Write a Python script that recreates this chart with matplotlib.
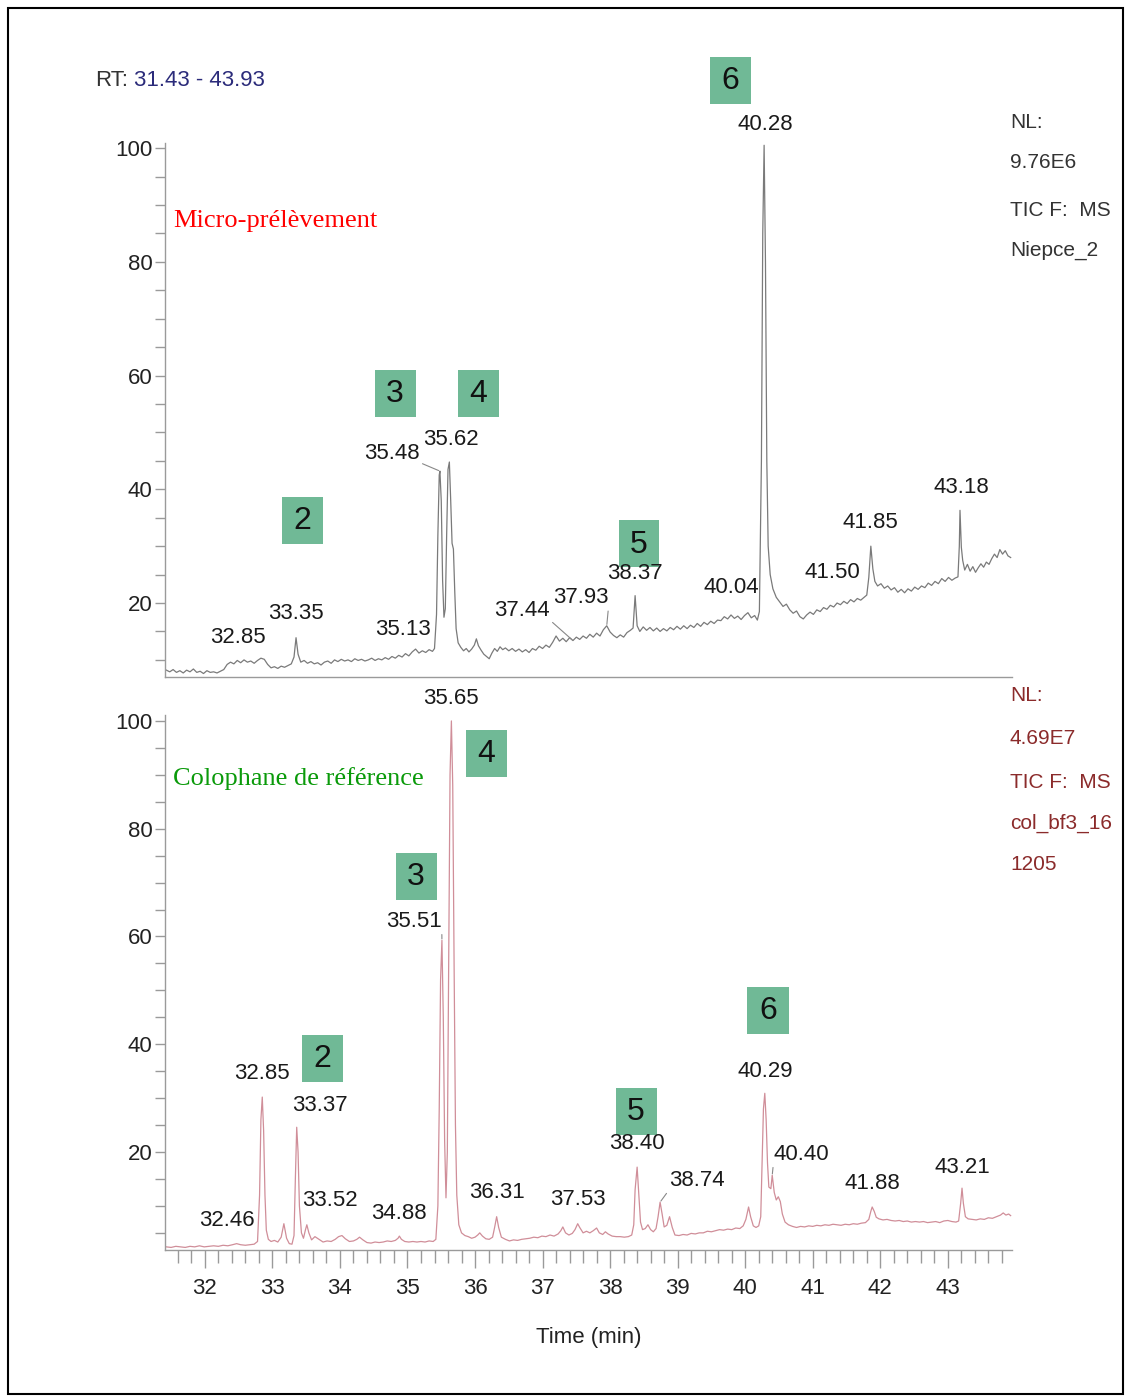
import numpy as np
import matplotlib.pyplot as plt
from matplotlib.patches import Rectangle
from matplotlib.ticker import MultipleLocator

W, H = 1125, 1396
NARROW = ['Liberation Sans', 'DejaVu Sans']
FS = 16

# upper chromatogram (micro-sample), relative abundance vs time (min)
top_time = [31.43, 31.48, 31.53, 31.58, 31.63, 31.68, 31.73, 31.78, 31.83, 31.88, 31.93, 31.98, 32.03, 32.08,
            32.13, 32.18, 32.23, 32.28, 32.33, 32.38, 32.43, 32.48, 32.53, 32.58, 32.63, 32.68, 32.73, 32.78,
            32.83, 32.88, 32.93, 32.98, 33.03, 33.08, 33.13, 33.18, 33.23, 33.28, 33.32, 33.35, 33.38, 33.42,
            33.47, 33.52, 33.57, 33.62, 33.67, 33.72, 33.77, 33.82, 33.87, 33.92, 33.97, 34.02, 34.07, 34.12,
            34.17, 34.22, 34.27, 34.32, 34.37, 34.42, 34.47, 34.52, 34.57, 34.62, 34.67, 34.72, 34.77, 34.82,
            34.87, 34.92, 34.97, 35.02, 35.07, 35.12, 35.17, 35.22, 35.27, 35.32, 35.37, 35.40, 35.43, 35.45,
            35.47, 35.48, 35.50, 35.52, 35.54, 35.56, 35.58, 35.60, 35.62, 35.64, 35.66, 35.68, 35.70, 35.72,
            35.75, 35.79, 35.83, 35.87, 35.91, 35.95, 35.99, 36.02, 36.05, 36.09, 36.13, 36.17, 36.21, 36.25,
            36.29, 36.33, 36.37, 36.41, 36.45, 36.50, 36.55, 36.60, 36.65, 36.70, 36.75, 36.80, 36.85, 36.90,
            36.95, 37.00, 37.05, 37.10, 37.15, 37.20, 37.25, 37.30, 37.35, 37.40, 37.45, 37.50, 37.55, 37.60,
            37.65, 37.70, 37.75, 37.80, 37.85, 37.90, 37.95, 38.00, 38.05, 38.10, 38.15, 38.20, 38.25, 38.30,
            38.34, 38.37, 38.40, 38.44, 38.49, 38.54, 38.59, 38.64, 38.69, 38.74, 38.79, 38.84, 38.89, 38.94,
            38.99, 39.04, 39.09, 39.14, 39.19, 39.24, 39.29, 39.34, 39.39, 39.44, 39.49, 39.54, 39.59, 39.64,
            39.69, 39.74, 39.79, 39.84, 39.89, 39.94, 39.99, 40.04, 40.09, 40.14, 40.18, 40.21, 40.24, 40.26,
            40.28, 40.30, 40.32, 40.34, 40.37, 40.41, 40.46, 40.51, 40.56, 40.61, 40.66, 40.71, 40.76, 40.81,
            40.86, 40.91, 40.96, 41.01, 41.06, 41.11, 41.16, 41.21, 41.26, 41.31, 41.36, 41.41, 41.46, 41.51,
            41.56, 41.61, 41.66, 41.71, 41.76, 41.80, 41.83, 41.86, 41.89, 41.92, 41.96, 42.01, 42.06, 42.11,
            42.16, 42.21, 42.26, 42.31, 42.36, 42.41, 42.46, 42.51, 42.56, 42.61, 42.66, 42.71, 42.76, 42.81,
            42.86, 42.91, 42.96, 43.01, 43.06, 43.11, 43.15, 43.17, 43.18, 43.20, 43.22, 43.25, 43.29, 43.33,
            43.37, 43.41, 43.45, 43.49, 43.53, 43.57, 43.61, 43.65, 43.69, 43.73, 43.77, 43.81, 43.85, 43.89,
            43.93]
top_int = [8.2, 7.9, 8.3, 7.8, 8.1, 7.7, 8.2, 7.9, 8.4, 7.8, 8.0, 7.6, 8.1, 7.8,
           7.9, 7.7, 8.0, 8.3, 9.2, 9.6, 9.3, 9.9, 9.5, 10.0, 9.6, 9.8, 9.4, 9.9,
           10.3, 10.1, 9.2, 8.6, 8.8, 8.5, 8.9, 8.7, 9.0, 9.3, 10.5, 13.9, 11.0, 9.6,
           9.9, 9.4, 9.7, 9.3, 9.5, 9.1, 9.6, 9.8, 9.4, 10.0, 9.7, 10.1, 9.8, 10.0,
           9.7, 10.2, 9.9, 10.1, 9.8, 10.0, 10.3, 9.9, 10.2, 10.0, 10.4, 10.1, 10.6, 10.3,
           10.8, 10.5, 11.1, 10.7, 11.4, 11.9, 11.2, 11.6, 11.3, 11.8, 11.5, 12.0, 18.0, 32.0,
           42.5, 43.2, 38.0, 24.0, 17.5, 19.0, 32.0, 43.5, 44.8, 38.0, 30.5, 29.5, 22.0, 15.5,
           13.0, 12.2, 11.6, 12.0, 11.4, 11.9, 12.6, 13.7, 12.5, 11.7, 11.0, 10.6, 10.2, 11.2,
           12.0, 11.5, 12.3, 11.8, 12.1, 11.6, 12.0, 11.5, 11.9, 11.4, 11.8, 11.3, 12.0, 11.7,
           12.4, 12.0, 12.6, 12.2, 13.1, 14.2, 13.3, 13.8, 13.2, 13.9, 13.4, 14.0, 13.6, 14.2,
           13.8, 14.5, 14.0, 14.7, 14.2, 15.3, 16.0, 14.9, 14.3, 13.9, 14.4, 14.0, 14.8, 15.2,
           15.6, 21.3, 16.0, 15.0, 15.8, 15.2, 15.7, 15.1, 15.6, 15.0, 15.5, 15.1, 15.7, 15.3,
           15.9, 15.4, 16.0, 15.5, 16.1, 15.7, 16.4, 15.9, 16.6, 16.2, 16.8, 16.4, 17.0, 16.9,
           17.6, 17.2, 17.9, 17.3, 17.7, 17.1, 17.8, 18.3, 17.4, 17.8, 17.0, 18.5, 45.0, 85.0,
           100.5, 80.0, 45.0, 30.0, 25.0, 22.5, 21.0, 20.2, 19.4, 19.8, 18.8, 18.2, 18.6, 17.6,
           17.2, 17.9, 18.4, 18.0, 18.8, 18.5, 19.2, 18.9, 19.6, 19.3, 20.0, 19.7, 20.3, 19.9,
           20.6, 20.2, 20.8, 20.5, 21.0, 21.4, 24.5, 30.0, 26.0, 23.8, 23.0, 23.4, 22.6, 23.0,
           22.3, 22.7, 21.9, 22.4, 21.8, 22.5, 22.1, 22.8, 22.4, 23.0, 22.7, 23.5, 23.1, 23.8,
           23.4, 24.3, 23.8, 24.5, 24.0, 24.4, 24.6, 30.0, 36.3, 29.8, 27.5, 25.8, 26.8, 25.6,
           26.4, 25.4, 26.2, 26.9, 26.3, 27.2, 26.8, 27.8, 28.6, 28.0, 29.4, 28.6, 29.2, 28.3,
           28.0]

# lower chromatogram (reference colophony)
bot_time = [31.43, 31.50, 31.57, 31.64, 31.71, 31.78, 31.85, 31.92, 31.99, 32.06, 32.13, 32.20, 32.27, 32.34,
            32.41, 32.47, 32.53, 32.60, 32.67, 32.73, 32.78, 32.81, 32.83, 32.85, 32.87, 32.89, 32.91, 32.94,
            32.98, 33.03, 33.08, 33.13, 33.17, 33.21, 33.25, 33.29, 33.32, 33.34, 33.36, 33.38, 33.40, 33.43,
            33.46, 33.49, 33.51, 33.54, 33.58, 33.63, 33.69, 33.75, 33.81, 33.87, 33.93, 33.98, 34.03, 34.08,
            34.14, 34.20, 34.25, 34.29, 34.34, 34.40, 34.46, 34.52, 34.58, 34.64, 34.70, 34.76, 34.82, 34.86,
            34.88, 34.91, 34.96, 35.02, 35.08, 35.14, 35.20, 35.26, 35.32, 35.38, 35.42, 35.45, 35.47, 35.49,
            35.51, 35.53, 35.55, 35.57, 35.59, 35.61, 35.63, 35.65, 35.67, 35.69, 35.71, 35.73, 35.76, 35.80,
            35.85, 35.90, 35.95, 36.00, 36.04, 36.07, 36.11, 36.16, 36.21, 36.26, 36.29, 36.32, 36.35, 36.39,
            36.45, 36.51, 36.57, 36.63, 36.69, 36.75, 36.81, 36.87, 36.93, 36.99, 37.05, 37.11, 37.17, 37.23,
            37.27, 37.30, 37.34, 37.39, 37.44, 37.48, 37.52, 37.55, 37.60, 37.65, 37.70, 37.75, 37.80, 37.84,
            37.89, 37.93, 37.97, 38.03, 38.09, 38.15, 38.21, 38.27, 38.32, 38.35, 38.37, 38.40, 38.42, 38.45,
            38.48, 38.52, 38.56, 38.60, 38.64, 38.68, 38.71, 38.74, 38.77, 38.80, 38.84, 38.88, 38.92, 38.96,
            39.02, 39.08, 39.14, 39.20, 39.26, 39.32, 39.38, 39.44, 39.50, 39.56, 39.62, 39.68, 39.74, 39.80,
            39.86, 39.92, 39.97, 40.01, 40.05, 40.08, 40.12, 40.16, 40.20, 40.23, 40.25, 40.27, 40.29, 40.31,
            40.33, 40.35, 40.38, 40.40, 40.43, 40.46, 40.49, 40.52, 40.55, 40.59, 40.64, 40.70, 40.76, 40.82,
            40.88, 40.94, 41.00, 41.06, 41.12, 41.18, 41.24, 41.30, 41.36, 41.42, 41.48, 41.54, 41.60, 41.66,
            41.72, 41.78, 41.83, 41.86, 41.88, 41.91, 41.94, 41.98, 42.04, 42.10, 42.16, 42.22, 42.28, 42.34,
            42.40, 42.46, 42.52, 42.58, 42.64, 42.70, 42.76, 42.82, 42.88, 42.94, 43.00, 43.06, 43.12, 43.16,
            43.19, 43.21, 43.23, 43.26, 43.30, 43.36, 43.42, 43.48, 43.54, 43.60, 43.66, 43.72, 43.78, 43.82,
            43.86, 43.90, 43.93]
bot_int = [2.4, 2.3, 2.5, 2.4, 2.3, 2.5, 2.4, 2.6, 2.4, 2.5, 2.6, 2.5, 2.7, 2.6,
           2.8, 3.0, 2.8, 2.7, 2.8, 2.9, 3.4, 12.0, 26.0, 30.2, 24.0, 12.0, 5.5, 3.8,
           3.4, 3.6, 3.3, 4.2, 6.7, 4.0, 3.0, 2.9, 4.5, 15.0, 24.6, 20.0, 10.0, 5.0,
           4.0, 5.6, 6.5, 5.0, 3.7, 4.3, 3.8, 3.3, 3.5, 3.4, 3.8, 4.3, 4.5, 3.9,
           3.4, 3.5, 3.8, 4.2, 3.7, 3.2, 3.1, 3.3, 3.2, 3.3, 3.5, 3.4, 3.6, 4.0,
           4.4, 3.8, 3.4, 3.3, 3.4, 3.3, 3.4, 3.3, 3.5, 3.4, 3.8, 10.0, 28.0, 52.0,
           59.3, 45.0, 22.0, 11.5, 20.0, 55.0, 90.0, 100.0, 88.0, 55.0, 25.0, 12.0, 6.5, 5.0,
           4.5, 4.3, 4.0, 4.2, 4.6, 5.0, 4.4, 3.9, 3.8, 4.2, 6.0, 8.0, 6.0, 4.2,
           3.8, 3.5, 3.7, 3.6, 3.8, 3.9, 4.0, 4.2, 4.1, 4.4, 4.3, 4.6, 4.4, 4.8,
           5.4, 6.1, 5.0, 4.6, 4.9, 5.6, 6.7, 6.0, 5.0, 5.3, 5.0, 5.4, 5.9, 5.0,
           4.7, 5.2, 4.8, 4.4, 4.3, 4.3, 4.2, 4.3, 4.6, 6.5, 13.0, 17.2, 13.0, 7.0,
           5.6, 5.8, 6.5, 5.6, 5.2, 5.8, 8.0, 10.7, 8.5, 6.1, 6.4, 8.0, 6.0, 4.6,
           4.5, 4.7, 4.6, 4.9, 4.8, 5.0, 5.0, 5.3, 5.2, 5.4, 5.6, 5.5, 5.7, 5.6,
           5.9, 5.8, 6.3, 7.5, 9.8, 8.0, 6.3, 6.0, 6.3, 8.0, 18.0, 28.0, 30.9, 26.0,
           18.0, 13.5, 13.2, 15.7, 12.5, 11.1, 11.7, 10.8, 8.5, 7.0, 6.5, 6.2, 6.0, 6.2,
           6.1, 6.3, 6.2, 6.4, 6.3, 6.5, 6.4, 6.6, 6.5, 6.4, 6.6, 6.5, 6.7, 6.6,
           6.8, 6.9, 7.5, 9.0, 9.8, 9.0, 7.9, 7.6, 7.4, 7.5, 7.3, 7.2, 7.3, 7.1,
           7.2, 7.0, 7.1, 7.0, 7.1, 6.9, 7.0, 7.1, 6.9, 7.2, 7.3, 7.1, 7.0, 7.2,
           10.5, 13.3, 10.5, 8.0, 7.6, 7.5, 7.4, 7.6, 7.5, 7.8, 7.7, 8.0, 8.3, 8.7,
           8.3, 8.5, 8.2]

# peak labels (retention times)
top_labels = ['32.85', '33.35', '35.13', '35.48', '35.62', '37.44', '37.93', '38.37',
              '40.04', '40.28', '41.50', '41.85', '43.18']
bot_labels = ['32.46', '32.85', '33.37', '33.52', '34.88', '35.51', '35.65', '36.31',
              '37.53', '38.40', '38.74', '40.29', '40.40', '41.88', '43.21']

# label offsets from the apex (pixels) and leader line side
top_offsets = [(-23, 21), (0, 24), (-13, 20), (-48, 18), (2, 23), (-51, 30), (-26, 28), (0, 22),
               (-17, 25), (1, 21), (-15, 31), (0, 24), (1, 23)]
top_leader = [None, None, None, 'left', None, 'left', 'left', None, None, None, None, None, None]
bot_offsets = [(-10, 23), (0, 24), (23, 22), (23, 24), (0, 23), (-28, 19), (0, 22), (0, 24),
               (0, 24), (0, 24), (37, 22), (0, 22), (29, 21), (0, 23), (0, 21)]
bot_leader = [None, None, None, None, None, 'left', None, None, None, None, 'right', None, 'right',
              None, None]

# compound number boxes (pixel centres)
top_boxes = [('6', 730, 80), ('3', 395, 393), ('4', 478, 393), ('2', 302, 520), ('5', 639, 544)]
bot_boxes = [('4', 486, 753), ('3', 416, 876), ('2', 322, 1058), ('5', 636, 1111), ('6', 768, 1010)]

AX_COL = '#9a9a9a'
TOP_COL = '#7a7a7a'
BOT_COL = '#d08e99'
BOX_COL = '#70b996'


def frac(l, t, r, b):
    return [l / W, 1 - b / H, (r - l) / W, (b - t) / H]


def apex(times, vals, t):
    times = np.asarray(times)
    vals = np.asarray(vals)
    m = np.abs(times - float(t)) <= 0.035
    i = np.argmax(vals[m])
    return times[m][i], vals[m][i]


def style_axes(ax):
    for s in ['top', 'right']:
        ax.spines[s].set_visible(False)
    for s in ['left', 'bottom']:
        ax.spines[s].set_color(AX_COL)
        ax.spines[s].set_linewidth(1.0)
    ax.set_xlim(31.41, 43.95)
    ax.yaxis.set_major_locator(MultipleLocator(20))
    ax.yaxis.set_minor_locator(MultipleLocator(5))
    ax.tick_params(axis='y', which='both', direction='out', color=AX_COL, length=7, width=1,
                   pad=2, labelsize=FS, labelcolor='#222222')
    for lab in ax.get_yticklabels():
        lab.set_family(NARROW)
    ax.set_facecolor('none')


def label_peaks(ax, times, vals, labels, offsets, leaders):
    for lab, (dx, dy), side in zip(labels, offsets, leaders):
        tx, ty = apex(times, vals, lab)
        kw = {}
        if side is not None:
            kw['arrowprops'] = dict(arrowstyle='-', color='#888888', lw=0.8, shrinkA=0, shrinkB=1,
                                    relpos=(1, 0.05) if side == 'left' else (0, 0.05))
        ax.annotate(lab, xy=(tx, ty), xytext=(dx, dy), textcoords='offset pixels',
                    ha='center', va='center', fontsize=FS, family=NARROW, color='#1a1a1a',
                    zorder=5, annotation_clip=False, **kw)


def add_boxes(ax, boxes):
    bw, bh = 41, 47
    for txt, cx, cy in boxes:
        ax.add_patch(Rectangle(((cx - bw / 2) / W, 1 - (cy + bh / 2) / H), bw / W, bh / H,
                               transform=fig.transFigure, facecolor=BOX_COL, edgecolor='none',
                               clip_on=False, zorder=4))
        ax.text(cx / W, 1 - (cy + 1) / H, txt, transform=fig.transFigure, ha='center', va='center',
                fontsize=23, family=['Liberation Sans', 'DejaVu Sans'], color='#111111', zorder=6)


fig = plt.figure(figsize=(W / 100, H / 100), dpi=100)

# top panel
ax1 = fig.add_axes(frac(165, 143, 1012, 677))
ax1.plot(top_time, top_int, color=TOP_COL, lw=0.9, clip_on=False)
style_axes(ax1)
ax1.set_ylim(6.99, 100.9)
ax1.set_xticks([])
label_peaks(ax1, top_time, top_int, top_labels, top_offsets, top_leader)
add_boxes(ax1, top_boxes)
ax1.text(173 / W, 1 - 221 / H, 'Micro-prélèvement', transform=fig.transFigure, ha='left', va='center',
         fontsize=19, family=['Liberation Serif', 'DejaVu Serif'], color='#ff0000')

# bottom panel
ax2 = fig.add_axes(frac(165, 715, 1012, 1250))
ax2.plot(bot_time, bot_int, color=BOT_COL, lw=0.9, clip_on=False)
style_axes(ax2)
ax2.set_ylim(1.82, 101.1)
ax2.xaxis.set_major_locator(MultipleLocator(1))
ax2.xaxis.set_minor_locator(MultipleLocator(0.2))
ax2.tick_params(axis='x', which='major', direction='out', color=AX_COL, length=13, width=1,
                pad=7, labelsize=FS, labelcolor='#222222')
ax2.tick_params(axis='x', which='minor', direction='out', color=AX_COL, length=9, width=1)
ax2.set_xticks(range(32, 44))
for lab in ax2.get_xticklabels():
    lab.set_family(NARROW)
ax2.set_xlabel('Time (min)', fontsize=FS, family=NARROW, color='#222222', labelpad=20)
label_peaks(ax2, bot_time, bot_int, bot_labels, bot_offsets, bot_leader)
add_boxes(ax2, bot_boxes)
ax2.text(173 / W, 1 - 779 / H, 'Colophane de référence', transform=fig.transFigure, ha='left',
         va='center', fontsize=19, family=['Liberation Serif', 'DejaVu Serif'], color='#0a9a0a')

# header and side texts
fig.text(95 / W, 1 - 80 / H, 'RT:', ha='left', va='center', fontsize=FS, family=NARROW, color='#333333')
fig.text(134 / W, 1 - 80 / H, '31.43 - 43.93', ha='left', va='center', fontsize=FS, family=NARROW,
         color='#2b2b7a')
for txt, y in [('NL:', 122), ('9.76E6', 162), ('TIC F:  MS', 210), ('Niepce_2', 250)]:
    fig.text(1010 / W, 1 - y / H, txt, ha='left', va='center', fontsize=FS - 1, family=NARROW,
             color='#333333')
for txt, y in [('NL:', 695), ('4.69E7', 738), ('TIC F:  MS', 782), ('col_bf3_16', 823), ('1205', 864)]:
    fig.text(1010 / W, 1 - y / H, txt, ha='left', va='center', fontsize=FS - 1, family=NARROW,
             color='#8b2b2b')

# outer frame
fig.add_artist(Rectangle((8 / W, 1 - 1394 / H), 1115 / W, 1386 / H, transform=fig.transFigure,
                         fill=False, edgecolor='black', lw=1.5))

fig.savefig('out.png', dpi=100)
